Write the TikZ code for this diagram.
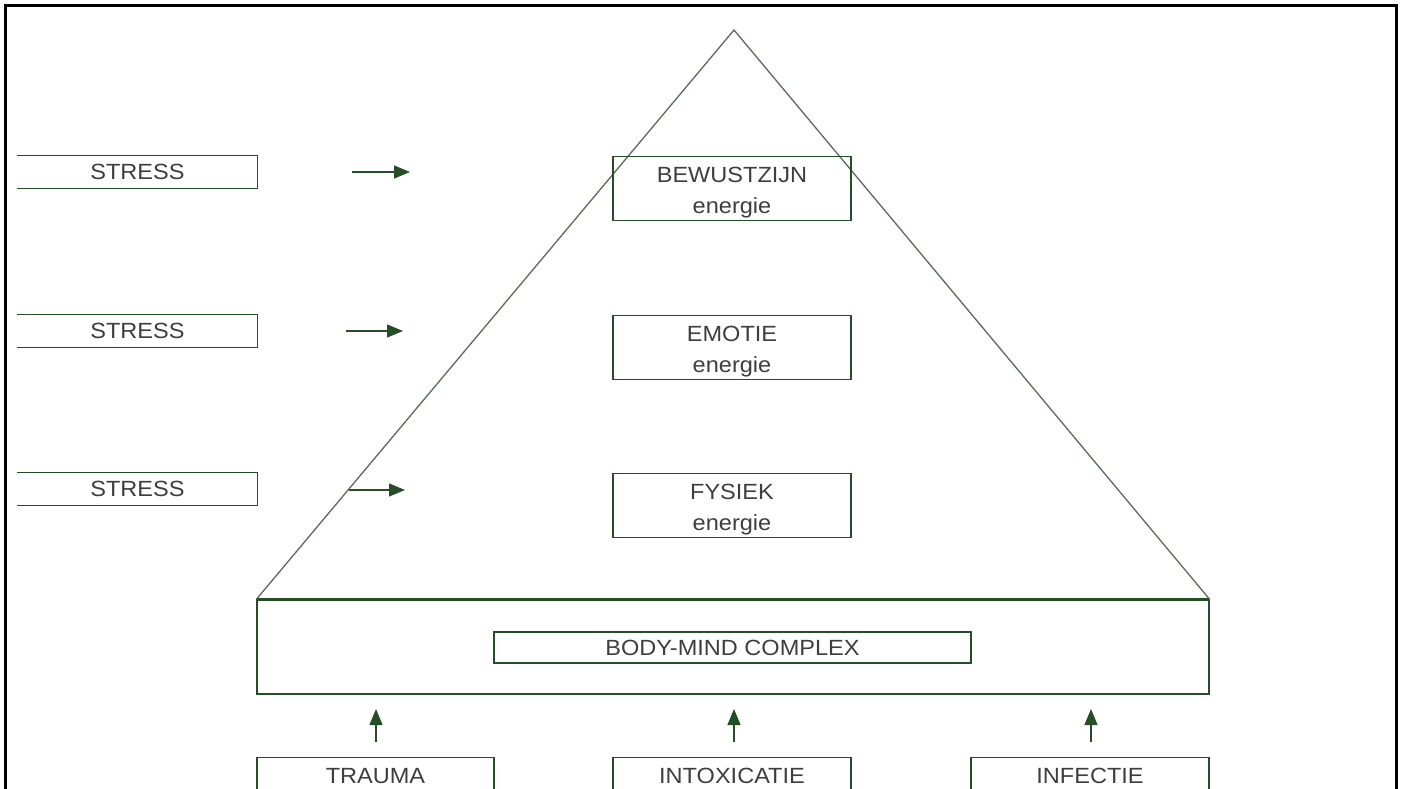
\documentclass[tikz,border=0pt]{standalone}
\usepackage{fontspec}
\setmainfont[FakeStretch=1.07]{Liberation Sans}
\usetikzlibrary{arrows.meta}
\definecolor{lijngroen}{RGB}{38,78,38}
\definecolor{piramide}{RGB}{88,108,88}
\definecolor{tekst}{RGB}{62,62,62}
\begin{document}
\begin{tikzpicture}[x=1pt, y=-1pt, line width=1.3pt,
  vak/.style={draw=lijngroen, minimum width=238pt, inner sep=0pt, text height=57pt, text depth=7pt,
    align=center, text=tekst, font=\fontsize{22}{31}\selectfont},
  oorzaak/.style={vak, text height=26pt, text depth=38pt},
  stressvak/.style={minimum width=239pt, minimum height=32pt, inner sep=0pt,
    text=tekst, font=\fontsize{22}{26}\selectfont},
  pijl/.style={draw=lijngroen, -{Triangle[length=16pt, width=13pt]}}]
\clip (0,0) rectangle (1401,789);
\useasboundingbox (0,0) rectangle (1401,789);
% kader
\draw[black, line width=3pt] (5,800) -- (5,6) -- (1396,6) -- (1396,800);
% stress links
\node[stressvak] (S_1) at (137.5,172) {STRESS};
\draw[lijngroen] (S_1.north west) -- (S_1.north east) -- (S_1.south east) -- (S_1.south west);
\node[stressvak] (S_2) at (137.5,331) {STRESS};
\draw[lijngroen] (S_2.north west) -- (S_2.north east) -- (S_2.south east) -- (S_2.south west);
\node[stressvak] (S_3) at (137.5,489) {STRESS};
\draw[lijngroen] (S_3.north west) -- (S_3.north east) -- (S_3.south east) -- (S_3.south west);
\coordinate (A_1_0) at (352,172);
\coordinate (A_1_1) at (410,172);
\draw[pijl] (A_1_0) -- (A_1_1);
\coordinate (A_2_0) at (346,331);
\coordinate (A_2_1) at (403,331);
\draw[pijl] (A_2_0) -- (A_2_1);
\coordinate (A_3_0) at (349,490);
\coordinate (A_3_1) at (405,490);
\draw[pijl] (A_3_0) -- (A_3_1);
% body-mind complex
\node[draw=lijngroen, minimum width=952pt, minimum height=94pt, inner sep=0pt] (BODY) at (733,647) {};
\draw[lijngroen, line width=3.2pt] (BODY.north west) -- (BODY.north east);
\node[draw=lijngroen, minimum width=477pt, minimum height=31pt, inner sep=0pt,
  text=tekst, font=\fontsize{22}{26}\selectfont] (BMC) at (732.5,647.5) {BODY-MIND COMPLEX};
% piramide
\coordinate (TOP) at (734,30);
\draw[piramide] (BODY.north west) -- (TOP) -- (BODY.north east);
% niveaus
\node[vak, anchor=north] (P_0) at (732,156) {BEWUSTZIJN\\energie};
\node[vak, anchor=north] (P_1) at (732,315) {EMOTIE\\energie};
\node[vak, anchor=north] (P_2) at (732,473) {FYSIEK\\energie};
% oorzaken onder
\node[oorzaak, anchor=north, minimum width=237pt] (O_0) at (375.5,757) {TRAUMA};
\node[oorzaak, anchor=north] (O_1) at (732,757) {INTOXICATIE};
\node[oorzaak, anchor=north] (O_2) at (1090,757) {INFECTIE};
\coordinate (B_0_0) at (376,742);
\coordinate (B_0_1) at (376,709);
\draw[pijl] (B_0_0) -- (B_0_1);
\coordinate (B_1_0) at (734,742);
\coordinate (B_1_1) at (734,709);
\draw[pijl] (B_1_0) -- (B_1_1);
\coordinate (B_2_0) at (1091,742);
\coordinate (B_2_1) at (1091,709);
\draw[pijl] (B_2_0) -- (B_2_1);
\end{tikzpicture}
\end{document}
